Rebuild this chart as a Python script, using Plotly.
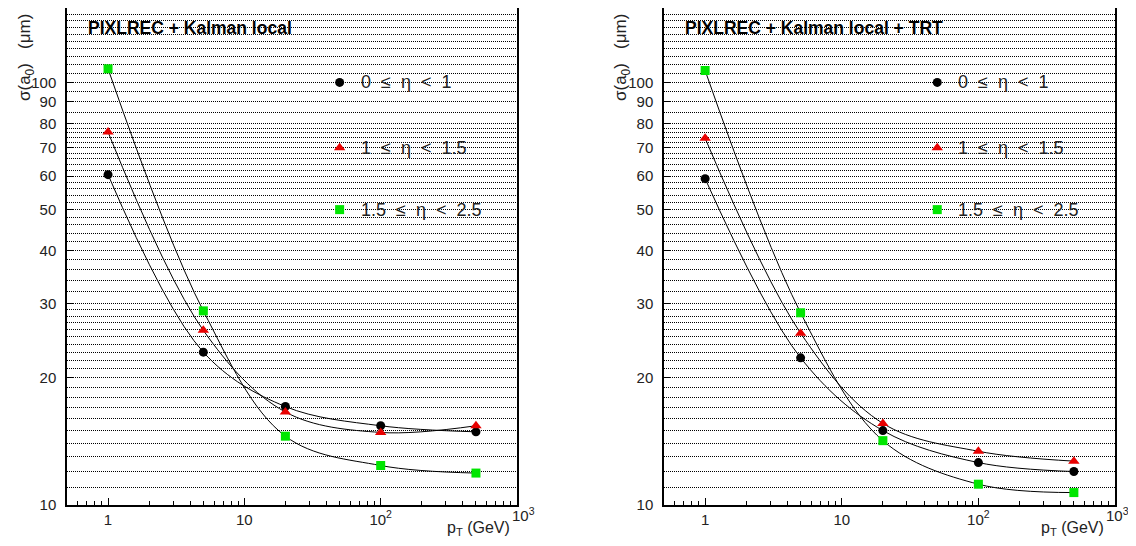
import numpy as np
import plotly.graph_objects as go

# ---------------- data ----------------
pt = [1, 5, 20, 100, 500]

left_eta0 = [60.5, 23.0, 17.1, 15.4, 14.9]
left_eta1 = [76.3, 25.9, 16.6, 14.85, 15.4]
left_eta2 = [107.7, 28.8, 14.55, 12.4, 11.9]

right_eta0 = [59.2, 22.3, 15.0, 12.6, 12.0]
right_eta1 = [73.8, 25.5, 15.6, 13.4, 12.7]
right_eta2 = [106.7, 28.5, 14.2, 11.2, 10.7]

legend_labels = ["0  ≤  η  <  1", "1  ≤  η  <  1.5", "1.5  ≤  η  <  2.5"]
legend_x = 50
legend_y = [100, 70, 50]

panel_titles = ["PIXLREC + Kalman local", "PIXLREC + Kalman local + TRT"]

y_tickvals = [10, 20, 30, 40, 50, 60, 70, 80, 90, 100]
y_ticktext = ["10", "20", "30", "40", "50", "60", "70", "80", "90", "100"]
y_gridvals = list(range(10, 30)) + list(range(30, 80, 2)) + list(range(80, 155, 5))

x_tickvals = [1, 10, 100, 1000]
x_ticktext = ["1", "10", "10<sup>2</sup>", ""]
x_last_label = "10<sup>3</sup>"
x_minorvals = [0.6, 0.7, 0.8, 0.9] + [m * d for d in (1, 10, 100) for m in range(2, 10)]

# ---------------- styles ----------------
colors = ["black", "#e80000", "#00e600"]
symbols = ["circle", "triangle-up", "square"]
sizes = [9, 10, 9]
TXT = "#222222"
FONT = "Liberation Sans, Arial, sans-serif"

# page body has an 8px margin: the figure sits at (8, 8) in the window
OFF = 8
W, H = 1136 - 2 * OFF, 546 - 2 * OFF
def px(xp):
    return (xp - OFF) / W
def py(yp):
    return 1 - (yp - OFF) / H

fig = go.Figure()

panels = [
    ("x", "y", [left_eta0, left_eta1, left_eta2], 6, 512),
    ("x2", "y2", [right_eta0, right_eta1, right_eta2], 2, 1106),
]

for xa, ya, series, _, _ in panels:
    for i, vals in enumerate(series):
        fig.add_trace(go.Scatter(
            x=pt, y=vals, mode="lines", xaxis=xa, yaxis=ya,
            line=dict(color="black", width=1, shape="spline", smoothing=1.0),
            showlegend=False, hoverinfo="skip"))
    for i, vals in enumerate(series):
        fig.add_trace(go.Scatter(
            x=pt, y=vals, mode="markers", xaxis=xa, yaxis=ya,
            marker=dict(color=colors[i], symbol=symbols[i], size=sizes[i],
                        line=dict(width=0)),
            showlegend=False))
    for i in range(3):
        fig.add_trace(go.Scatter(
            x=[legend_x], y=[legend_y[i]], mode="markers", xaxis=xa, yaxis=ya,
            marker=dict(color=colors[i], symbol=symbols[i], size=sizes[i],
                        line=dict(width=0)),
            showlegend=False))

annotations = []
for xa, ya, _, shift, xt_right in panels:
    for i in range(3):
        annotations.append(dict(
            x=np.log10(legend_x), y=np.log10(legend_y[i]), xref=xa, yref=ya,
            text=legend_labels[i], showarrow=False, xanchor="left", yanchor="middle",
            xshift=19, font=dict(family=FONT, size=18, color=TXT)))
    # last x tick label, shifted right as in the reference
    annotations.append(dict(
        x=3, y=py(514), xref=xa, yref="paper", text=x_last_label, showarrow=False,
        xanchor="center", yanchor="middle", xshift=shift,
        font=dict(family=FONT, size=15, color=TXT)))
    # x axis title at the bottom right
    annotations.append(dict(
        x=px(xt_right), y=py(528), xref="paper", yref="paper", text="p<sub>T</sub> (GeV)",
        showarrow=False, xanchor="right", yanchor="middle",
        font=dict(family=FONT, size=16, color=TXT)))

annotations += [
    dict(x=px(86), y=py(28), xref="paper", yref="paper", text="<b>" + panel_titles[0] + "</b>",
         showarrow=False, xanchor="left", yanchor="middle",
         font=dict(family=FONT, size=17.5, color="black")),
    dict(x=px(683), y=py(28), xref="paper", yref="paper", text="<b>" + panel_titles[1] + "</b>",
         showarrow=False, xanchor="left", yanchor="middle",
         font=dict(family=FONT, size=17.5, color="black")),
    dict(x=px(26), y=py(58), xref="paper", yref="paper", text="σ(a<sub>0</sub>)   (μm)",
         textangle=-90, showarrow=False, xanchor="center", yanchor="middle",
         font=dict(family=FONT, size=17, color=TXT)),
    dict(x=px(622), y=py(58), xref="paper", yref="paper", text="σ(a<sub>0</sub>)   (μm)",
         textangle=-90, showarrow=False, xanchor="center", yanchor="middle",
         font=dict(family=FONT, size=17, color=TXT)),
]

def xaxis_cfg(domain, anchor):
    return dict(
        type="log", domain=domain, anchor=anchor, range=[np.log10(0.5), 3],
        automargin=False,
        tickmode="array", tickvals=x_tickvals, ticktext=x_ticktext,
        ticks="inside", ticklen=7, tickcolor="black", tickwidth=1,
        showgrid=False, zeroline=False,
        showline=True, linecolor="black", linewidth=1.5, mirror=True,
        tickfont=dict(family=FONT, size=15, color=TXT),
        minor=dict(tickmode="array", tickvals=x_minorvals, ticks="inside",
                   ticklen=4, tickcolor="black", showgrid=False),
    )

def yaxis_cfg(anchor):
    return dict(
        type="log", domain=[py(505), py(8)], anchor=anchor, range=[1, np.log10(150)],
        automargin=False,
        tickmode="array", tickvals=y_tickvals, ticktext=y_ticktext,
        ticks="inside", ticklen=6, tickcolor="black",
        ticklabelstandoff=6,
        showgrid=True, gridcolor="black", gridwidth=1, griddash="1px,1px",
        zeroline=False,
        showline=True, linecolor="black", linewidth=1.5, mirror=True,
        tickfont=dict(family=FONT, size=15, color=TXT),
        minor=dict(tickmode="array", tickvals=y_gridvals, ticks="",
                   showgrid=True, gridcolor="black", gridwidth=1, griddash="1px,1px"),
    )

fig.update_layout(
    width=W, height=H,
    margin=dict(l=0, r=0, t=0, b=0),
    paper_bgcolor="white", plot_bgcolor="white",
    showlegend=False,
    xaxis=xaxis_cfg([px(67), px(517)], "y"),
    yaxis=yaxis_cfg("x"),
    xaxis2=xaxis_cfg([px(664), px(1115)], "y2"),
    yaxis2=yaxis_cfg("x2"),
    annotations=annotations,
)

fig.write_html("out.html")
